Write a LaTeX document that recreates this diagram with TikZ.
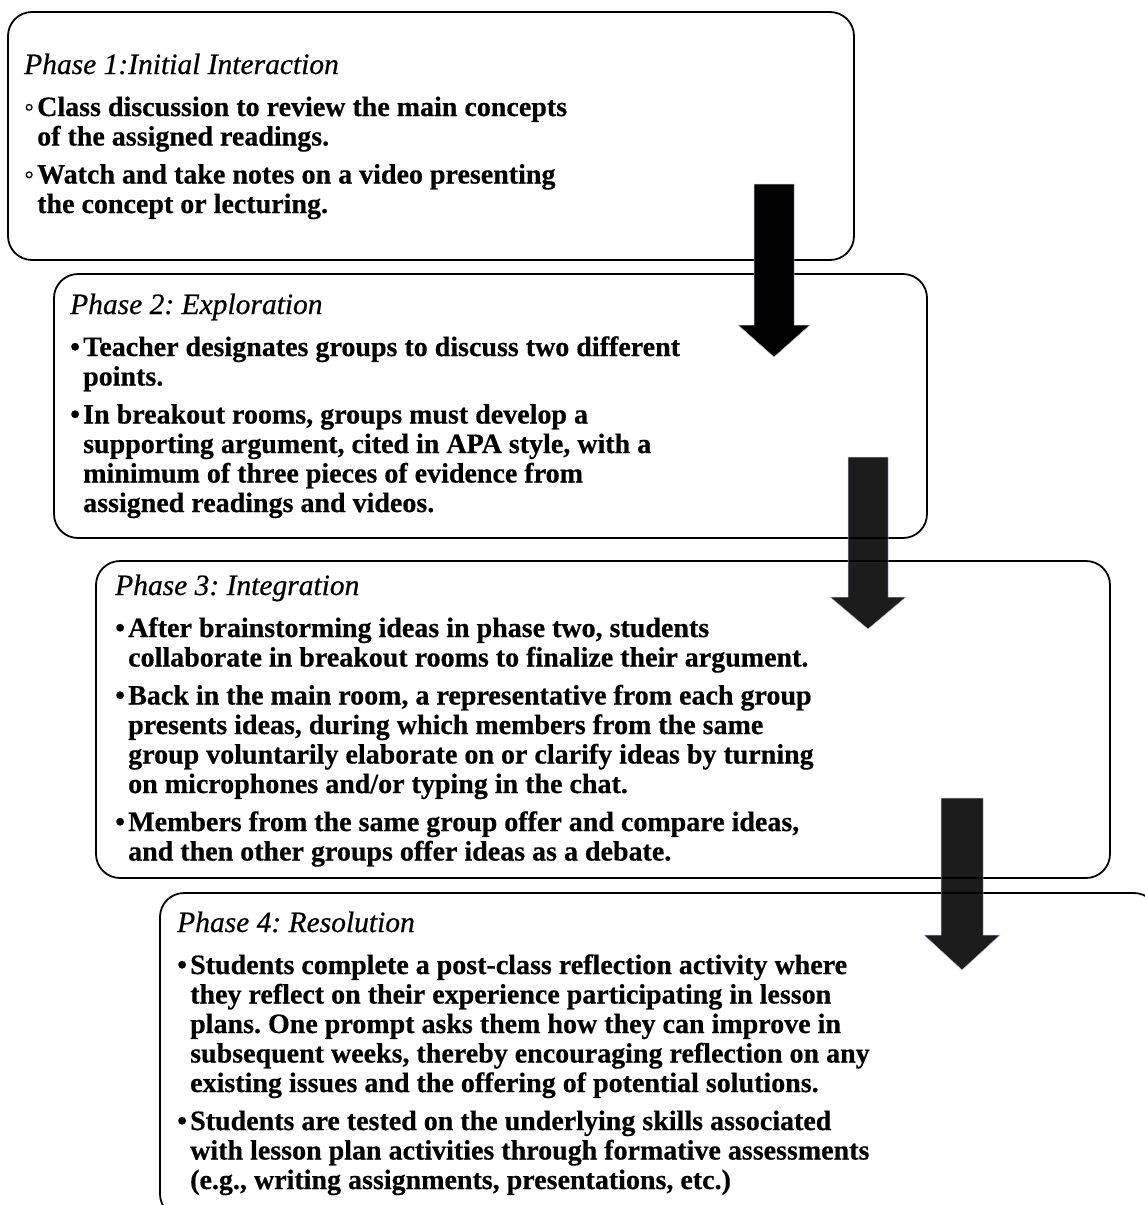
\documentclass[tikz,border=0pt]{standalone}
\usepackage{fontspec}
\setmainfont{Liberation Serif}[BoldFeatures={FakeBold=0.5},ItalicFeatures={FakeBold=0.6}]
\frenchspacing
\definecolor{arrowedge}{RGB}{190,195,225}
\newcommand\bu[1]{\hbox{\makebox[13pt][l]{•}#1}}
\newcommand\wbu[1]{\hbox{\makebox[13pt][l]{◦}#1}}
\newcommand\cn[1]{\hbox{\hspace*{13pt}#1}}
\newcommand\hd[1]{\hbox{\mdseries\itshape\fontsize{29.5}{29.5}\selectfont #1}\vskip 12.5pt}
\newcommand\gap{\vskip 8.5pt}
\newcommand\boxfont{\fontsize{28}{29.5}\selectfont\bfseries}
\begin{document}
\begin{tikzpicture}[x=1pt,y=-1pt,
  phasebox/.style={draw=black, line width=1.8pt, rounded corners=24pt, inner sep=0pt},
  txt/.style={anchor=base west, inner sep=0pt, align=left},
  blockarrow/.style={fill=black, draw=arrowedge, line width=0.5pt},
  softarrow/.style={blockarrow, fill opacity=0.89}]
\useasboundingbox (0,0) rectangle (1145,1205);
\clip (0,0) rectangle (1145,1205);
\fill[white] (0,0) rectangle (1145,1205);

% boxes
\node[phasebox, minimum width=846pt, minimum height=248pt] (b1) at (431,136) {};
\node[phasebox, minimum width=873pt, minimum height=264pt] (b2) at (490.5,406) {};
\node[phasebox, minimum width=1014pt, minimum height=317pt] (b3) at (603,719.5) {};
\node[phasebox, minimum width=998pt, minimum height=325pt] (b4) at (659,1055.5) {};

% texts
\node[txt] (t1) at (24,74) {\vtop{\boxfont
  \hd{Phase 1:Initial Interaction}
  \wbu{Class discussion to review the main concepts}
  \cn{of the assigned readings.}\gap
  \wbu{Watch and take notes on a video presenting}
  \cn{the concept or lecturing.}}};

\node[txt] (t2) at (70,314) {\vtop{\boxfont
  \hd{Phase 2: Exploration}
  \bu{Teacher designates groups to discuss two different}
  \cn{points.}\gap
  \bu{In breakout rooms, groups must develop a}
  \cn{supporting argument, cited in APA style, with a}
  \cn{minimum of three pieces of evidence from}
  \cn{assigned readings and videos.}}};

\node[txt] (t3) at (115,595) {\vtop{\boxfont
  \hd{Phase 3: Integration}
  \bu{After brainstorming ideas in phase two, students}
  \cn{collaborate in breakout rooms to finalize their argument.}\gap
  \bu{Back in the main room, a representative from each group}
  \cn{presents ideas, during which members from the same}
  \cn{group voluntarily elaborate on or clarify ideas by turning}
  \cn{on microphones and/or typing in the chat.}\gap
  \bu{Members from the same group offer and compare ideas,}
  \cn{and then other groups offer ideas as a debate.}}};

\node[txt] (t4) at (177,932) {\vtop{\boxfont
  \hd{Phase 4: Resolution}
  \bu{Students complete a post-class reflection activity where}
  \cn{they reflect on their experience participating in lesson}
  \cn{plans. One prompt asks them how they can improve in}
  \cn{subsequent weeks, thereby encouraging reflection on any}
  \cn{existing issues and the offering of potential solutions.}\gap
  \bu{Students are tested on the underlying skills associated}
  \cn{with lesson plan activities through formative assessments}
  \cn{(e.g., writing assignments, presentations, etc.)}}};

% arrows
\coordinate (a1tip) at (774,357);
\coordinate (a2tip) at (868,629);
\coordinate (a3tip) at (962,970);
\path[blockarrow] (754,184) -- (794,184) -- (794,325) -- (810,325) -- (a1tip) -- (738,325) -- (754,325) -- cycle;
\path[softarrow] (848,457) -- (888,457) -- (888,597) -- (906,597) -- (a2tip) -- (830,597) -- (848,597) -- cycle;
\path[softarrow] (941,798) -- (983,798) -- (983,935) -- (1000,935) -- (a3tip) -- (924,935) -- (941,935) -- cycle;
\end{tikzpicture}
\end{document}
